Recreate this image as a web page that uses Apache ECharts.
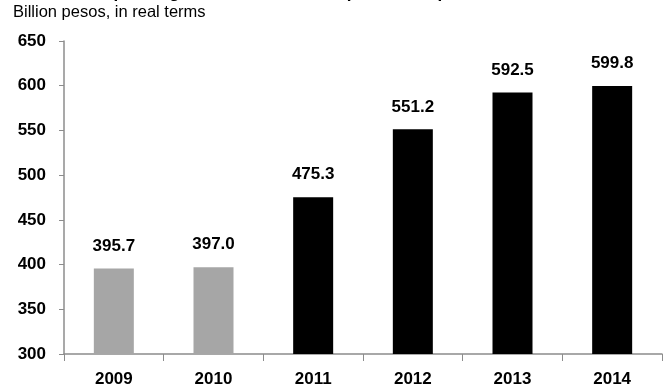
<!DOCTYPE html>
<html><head><meta charset="utf-8">
<script src="https://cdn.jsdelivr.net/npm/echarts@6/dist/echarts.min.js"></script>
<style>html,body{margin:0;padding:0;background:#fff}#c{width:666px;height:391px}</style>
</head><body><div id="c"></div>
<script>
const categories = ['2009','2010','2011','2012','2013','2014'];
const values = [395.7, 397.0, 475.3, 551.2, 592.5, 599.8];
const barColors = ['#a6a6a6','#a6a6a6','#000000','#000000','#000000','#000000'];
const yTicks = [300,350,400,450,500,550,600,650];
const subtitle = 'Billion pesos, in real terms';
const title = 'Total spending on the social development component';

const chart = echarts.init(document.getElementById('c'));
const F = 'Liberation Sans Narrow, Arial Narrow, Liberation Sans, Arial, sans-serif';
chart.setOption({
  animation:false,
  graphic:[
    {type:'text', left:60, top:-15, style:{text:title, font:'bold 17px '+F, fill:'#000'}},
    {type:'text', left:13, top:4, style:{text:subtitle, font:'16.5px Liberation Sans, Arial, sans-serif', fill:'#000'}}
  ],
  grid:{left:64, right:4, top:41, bottom:37},
  xAxis:{type:'category', data:categories,
    axisLine:{lineStyle:{color:'#8c8c8c', width:1.5}},
    axisTick:{show:true, length:7, lineStyle:{color:'#8c8c8c'}},
    axisLabel:{color:'#000', fontWeight:'bold', fontSize:17, fontFamily:F, margin:17}
  },
  yAxis:{type:'value', min:yTicks[0], max:yTicks[yTicks.length-1], interval:50,
    splitLine:{show:false},
    axisLine:{show:true, lineStyle:{color:'#8c8c8c', width:1.5}},
    axisTick:{show:true, length:5, lineStyle:{color:'#8c8c8c'}},
    axisLabel:{color:'#000', fontWeight:'bold', fontSize:17, fontFamily:F, margin:18}
  },
  series:[{type:'bar', barWidth:40,
    data: values.map((v,i)=>({value:v, itemStyle:{color:barColors[i]}})),
    label:{show:true, position:'top', distance:14, color:'#000', fontWeight:'bold', fontSize:17, fontFamily:F,
      formatter:p=>p.value.toFixed(1)}
  }]
});
</script></body></html>
